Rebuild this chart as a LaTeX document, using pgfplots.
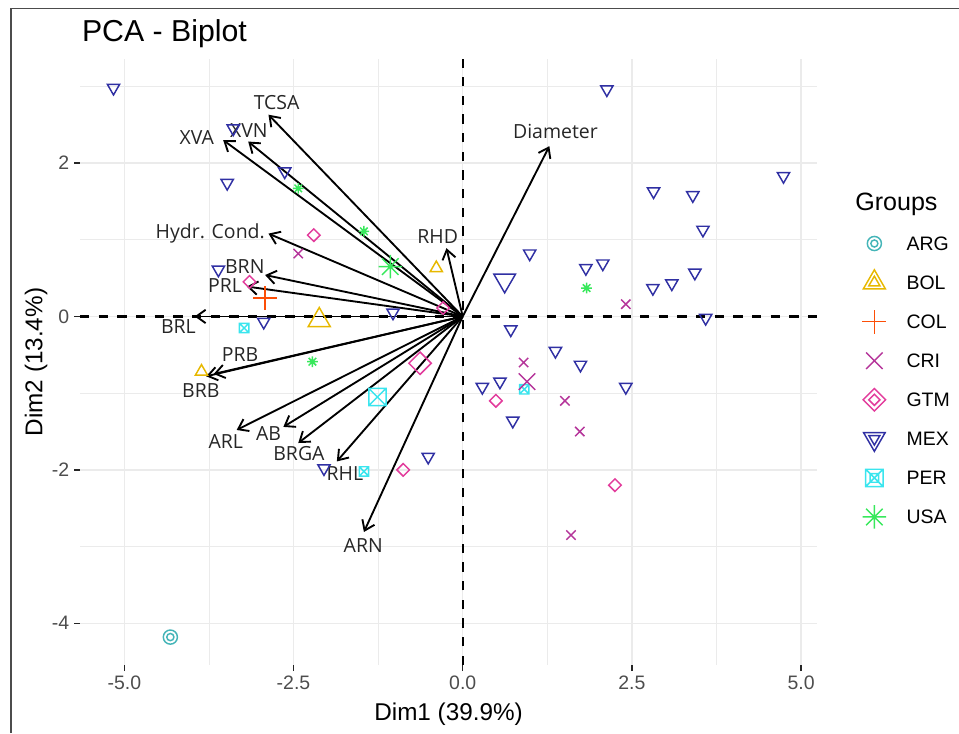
\documentclass[border=0pt]{standalone}
\usepackage{pgfplots}
\pgfplotsset{compat=1.18}
\usepackage{fontspec}
\setmainfont{Liberation Sans}
\newfontfamily\lblfont{Open Sans}
\usetikzlibrary{arrows.meta}
\definecolor{cARG}{HTML}{45B5B8}
\definecolor{cBOL}{HTML}{E7B800}
\definecolor{cCOL}{HTML}{FC4E07}
\definecolor{cCRI}{HTML}{B5359A}
\definecolor{cGTM}{HTML}{E23C9C}
\definecolor{cMEX}{HTML}{3030A3}
\definecolor{cPER}{HTML}{3AE5EE}
\definecolor{cUSA}{HTML}{38E85C}
\definecolor{gridc}{HTML}{EBEBEB}
\definecolor{tickc}{HTML}{4D4D4D}
% ggplot-like marks
\pgfdeclareplotmark{ggcirc}{\pgfpathcircle{\pgfpointorigin}{\pgfplotmarksize}\pgfusepathqstroke}
\pgfdeclareplotmark{ggdblcirc}{\pgfpathcircle{\pgfpointorigin}{\pgfplotmarksize}\pgfpathcircle{\pgfpointorigin}{0.5\pgfplotmarksize}\pgfusepathqstroke}
\pgfdeclareplotmark{ggtri}{%
  \pgfpathmoveto{\pgfqpoint{0pt}{1.1547\pgfplotmarksize}}%
  \pgfpathlineto{\pgfqpoint{\pgfplotmarksize}{-0.5774\pgfplotmarksize}}%
  \pgfpathlineto{\pgfqpoint{-\pgfplotmarksize}{-0.5774\pgfplotmarksize}}%
  \pgfpathclose\pgfusepathqstroke}
\pgfdeclareplotmark{ggdbltri}{%
  \pgfpathmoveto{\pgfqpoint{0pt}{1.1547\pgfplotmarksize}}%
  \pgfpathlineto{\pgfqpoint{\pgfplotmarksize}{-0.5774\pgfplotmarksize}}%
  \pgfpathlineto{\pgfqpoint{-\pgfplotmarksize}{-0.5774\pgfplotmarksize}}%
  \pgfpathclose
  \pgfpathmoveto{\pgfqpoint{0pt}{0.5774\pgfplotmarksize}}%
  \pgfpathlineto{\pgfqpoint{0.5\pgfplotmarksize}{-0.2887\pgfplotmarksize}}%
  \pgfpathlineto{\pgfqpoint{-0.5\pgfplotmarksize}{-0.2887\pgfplotmarksize}}%
  \pgfpathclose\pgfusepathqstroke}
\pgfdeclareplotmark{ggtridown}{%
  \pgfpathmoveto{\pgfqpoint{0pt}{-1.1547\pgfplotmarksize}}%
  \pgfpathlineto{\pgfqpoint{\pgfplotmarksize}{0.5774\pgfplotmarksize}}%
  \pgfpathlineto{\pgfqpoint{-\pgfplotmarksize}{0.5774\pgfplotmarksize}}%
  \pgfpathclose\pgfusepathqstroke}
\pgfdeclareplotmark{ggdbltridown}{%
  \pgfpathmoveto{\pgfqpoint{0pt}{-1.1547\pgfplotmarksize}}%
  \pgfpathlineto{\pgfqpoint{\pgfplotmarksize}{0.5774\pgfplotmarksize}}%
  \pgfpathlineto{\pgfqpoint{-\pgfplotmarksize}{0.5774\pgfplotmarksize}}%
  \pgfpathclose
  \pgfpathmoveto{\pgfqpoint{0pt}{-0.5774\pgfplotmarksize}}%
  \pgfpathlineto{\pgfqpoint{0.5\pgfplotmarksize}{0.2887\pgfplotmarksize}}%
  \pgfpathlineto{\pgfqpoint{-0.5\pgfplotmarksize}{0.2887\pgfplotmarksize}}%
  \pgfpathclose\pgfusepathqstroke}
\pgfdeclareplotmark{ggplus}{%
  \pgfpathmoveto{\pgfqpoint{-\pgfplotmarksize}{0pt}}\pgfpathlineto{\pgfqpoint{\pgfplotmarksize}{0pt}}%
  \pgfpathmoveto{\pgfqpoint{0pt}{-\pgfplotmarksize}}\pgfpathlineto{\pgfqpoint{0pt}{\pgfplotmarksize}}%
  \pgfusepathqstroke}
\pgfdeclareplotmark{ggx}{%
  \pgfpathmoveto{\pgfqpoint{-\pgfplotmarksize}{-\pgfplotmarksize}}\pgfpathlineto{\pgfqpoint{\pgfplotmarksize}{\pgfplotmarksize}}%
  \pgfpathmoveto{\pgfqpoint{-\pgfplotmarksize}{\pgfplotmarksize}}\pgfpathlineto{\pgfqpoint{\pgfplotmarksize}{-\pgfplotmarksize}}%
  \pgfusepathqstroke}
\pgfdeclareplotmark{ggdia}{%
  \pgfpathmoveto{\pgfqpoint{0pt}{\pgfplotmarksize}}\pgfpathlineto{\pgfqpoint{\pgfplotmarksize}{0pt}}%
  \pgfpathlineto{\pgfqpoint{0pt}{-\pgfplotmarksize}}\pgfpathlineto{\pgfqpoint{-\pgfplotmarksize}{0pt}}%
  \pgfpathclose\pgfusepathqstroke}
\pgfdeclareplotmark{ggdbldia}{%
  \pgfpathmoveto{\pgfqpoint{0pt}{\pgfplotmarksize}}\pgfpathlineto{\pgfqpoint{\pgfplotmarksize}{0pt}}%
  \pgfpathlineto{\pgfqpoint{0pt}{-\pgfplotmarksize}}\pgfpathlineto{\pgfqpoint{-\pgfplotmarksize}{0pt}}%
  \pgfpathclose
  \pgfpathmoveto{\pgfqpoint{0pt}{0.5\pgfplotmarksize}}\pgfpathlineto{\pgfqpoint{0.5\pgfplotmarksize}{0pt}}%
  \pgfpathlineto{\pgfqpoint{0pt}{-0.5\pgfplotmarksize}}\pgfpathlineto{\pgfqpoint{-0.5\pgfplotmarksize}{0pt}}%
  \pgfpathclose\pgfusepathqstroke}
\pgfdeclareplotmark{ggsqx}{%
  \pgfpathrectangle{\pgfqpoint{-\pgfplotmarksize}{-\pgfplotmarksize}}{\pgfqpoint{2\pgfplotmarksize}{2\pgfplotmarksize}}%
  \pgfpathmoveto{\pgfqpoint{-\pgfplotmarksize}{-\pgfplotmarksize}}\pgfpathlineto{\pgfqpoint{\pgfplotmarksize}{\pgfplotmarksize}}%
  \pgfpathmoveto{\pgfqpoint{-\pgfplotmarksize}{\pgfplotmarksize}}\pgfpathlineto{\pgfqpoint{\pgfplotmarksize}{-\pgfplotmarksize}}%
  \pgfusepathqstroke}
\pgfdeclareplotmark{ggdblsqx}{%
  \pgfpathrectangle{\pgfqpoint{-\pgfplotmarksize}{-\pgfplotmarksize}}{\pgfqpoint{2\pgfplotmarksize}{2\pgfplotmarksize}}%
  \pgfpathrectangle{\pgfqpoint{-0.5\pgfplotmarksize}{-0.5\pgfplotmarksize}}{\pgfqpoint{\pgfplotmarksize}{\pgfplotmarksize}}%
  \pgfpathmoveto{\pgfqpoint{-\pgfplotmarksize}{-\pgfplotmarksize}}\pgfpathlineto{\pgfqpoint{\pgfplotmarksize}{\pgfplotmarksize}}%
  \pgfpathmoveto{\pgfqpoint{-\pgfplotmarksize}{\pgfplotmarksize}}\pgfpathlineto{\pgfqpoint{\pgfplotmarksize}{-\pgfplotmarksize}}%
  \pgfusepathqstroke}
\pgfdeclareplotmark{ggast}{%
  \pgfpathmoveto{\pgfqpoint{-\pgfplotmarksize}{0pt}}\pgfpathlineto{\pgfqpoint{\pgfplotmarksize}{0pt}}%
  \pgfpathmoveto{\pgfqpoint{0pt}{-\pgfplotmarksize}}\pgfpathlineto{\pgfqpoint{0pt}{\pgfplotmarksize}}%
  \pgfpathmoveto{\pgfqpoint{-0.7071\pgfplotmarksize}{-0.7071\pgfplotmarksize}}\pgfpathlineto{\pgfqpoint{0.7071\pgfplotmarksize}{0.7071\pgfplotmarksize}}%
  \pgfpathmoveto{\pgfqpoint{-0.7071\pgfplotmarksize}{0.7071\pgfplotmarksize}}\pgfpathlineto{\pgfqpoint{0.7071\pgfplotmarksize}{-0.7071\pgfplotmarksize}}%
  \pgfusepathqstroke}
\pgfplotsset{
  vec/.style={forget plot, no markers, black, line width=1.4pt, -{Straight Barb[length=7pt,width=10pt,line width=1.4pt]}},
  pts/.style={forget plot, only marks, line width=1.1pt},
  refl/.style={forget plot, no markers, black, line width=1.8pt, dash pattern=on 7pt off 7pt},
}
\tikzset{
  vlab/.style={font=\lblfont\fontsize{14.6}{17}\selectfont, text=black!85, inner sep=0pt, text height=0.714em, text depth=0pt, anchor=center},
}
\begin{document}
\begin{tikzpicture}
\useasboundingbox (0,0) rectangle (719.25pt,549.75pt);
\draw[line width=1.3pt, color=black!70] (8.25pt,0pt) -- (8.25pt,543.4pt) -- (719.25pt,543.4pt);
\begin{axis}[
  at={(60pt,51pt)}, anchor=south west,
  scale only axis, width=552.75pt, height=454.3pt,
  xmin=-5.655, xmax=5.235, ymin=-4.544, ymax=3.353,
  axis line style={draw=none},
  xtick={-5,-2.5,0,2.5,5}, xticklabels={-5.0,-2.5,0.0,2.5,5.0},
  ytick={-4,-2,0,2}, yticklabels={-4,-2,0,2},
  minor xtick={-3.75,-1.25,1.25,3.75}, minor ytick={-3,-1,1,3},
  grid=both,
  major grid style={gridc, line width=1.1pt},
  minor grid style={gridc, line width=0.55pt},
  tick pos=left, tick align=outside,
  major tick length=4.5pt, minor tick length=0pt,
  major tick style={black!85, line width=1.1pt},
  ticklabel style={font=\fontsize{14.6}{17}\selectfont, color=tickc},
  legend style={at={(1.0612,0.7174)}, anchor=north west, draw=none, fill=none,
    inner xsep=0pt, inner ysep=0pt, row sep=10.1pt,
    font=\fontsize{14.6}{17}\selectfont,
    nodes={inner sep=0pt, text depth=0pt},
    /tikz/every odd column/.append style={column sep=15.15pt}},
  legend cell align=left,
  legend image code/.code={\path[draw=none,fill=none] (0pt,-9.6pt) rectangle (17pt,9.6pt);
    \draw[#1,only marks] plot coordinates {(8.5pt,0pt)};},
]
% individuals
\addplot[pts, cMEX, mark=ggtridown, mark size=4.6pt] coordinates {
(-5.16,2.98) (-3.39,2.45) (-2.63,1.89) (-3.48,1.74) (-3.61,0.61) (-2.94,-0.07)
(-1.03,0.05) (-2.05,-1.98) (-0.51,-1.83) (2.13,2.96) (4.74,1.83) (2.82,1.63)
(3.40,1.58) (3.55,1.13) (0.99,0.82) (1.82,0.63) (2.07,0.69) (2.81,0.37)
(3.09,0.43) (3.43,0.57) (3.59,-0.02) (0.71,-0.17) (1.37,-0.45) (1.74,-0.63)
(0.55,-0.85) (0.29,-0.92) (2.41,-0.92) (0.74,-1.36)};
\addplot[pts, cCRI, mark=ggx, mark size=3.5pt] coordinates {
(-2.43,0.82) (2.41,0.16) (0.90,-0.60) (1.51,-1.10) (1.73,-1.50) (1.60,-2.85)};
\addplot[pts, cGTM, mark=ggdia, mark size=4.7pt] coordinates {
(-2.20,1.06) (-3.15,0.45) (-0.88,-2.00) (0.49,-1.10) (2.25,-2.20) (-0.29,0.11)};
\addplot[pts, cBOL, mark=ggtri, mark size=4.6pt] coordinates {
(-0.39,0.63) (-3.86,-0.72)};
\addplot[pts, cPER, mark=ggsqx, mark size=3.5pt] coordinates {
(-3.23,-0.15) (-1.46,-2.02) (0.91,-0.95)};
\addplot[pts, cUSA, mark=ggast, mark size=4pt] coordinates {
(-2.43,1.67) (-1.46,1.11) (-2.22,-0.59) (1.83,0.37)};
\addplot[pts, cCOL, mark=ggplus, mark size=5pt] coordinates {(-2.92,0.24)};
\addplot[pts, cARG, mark=ggcirc, mark size=2.7pt] coordinates {(-4.32,-4.18)};
% group means
\addplot[pts, cMEX, mark=ggtridown, mark size=8.1pt] coordinates {(0.62,0.47)};
\addplot[pts, cCRI, mark=ggx, mark size=6.2pt] coordinates {(0.95,-0.85)};
\addplot[pts, cGTM, mark=ggdia, mark size=8.4pt] coordinates {(-0.63,-0.61)};
\addplot[pts, cBOL, mark=ggtri, mark size=8.3pt] coordinates {(-2.12,-0.05)};
\addplot[pts, cPER, mark=ggsqx, mark size=6.5pt] coordinates {(-1.26,-1.05)};
\addplot[pts, cUSA, mark=ggast, mark size=8.8pt] coordinates {(-1.07,0.65)};
\addplot[pts, cCOL, mark=ggplus, mark size=9pt] coordinates {(-2.92,0.24)};
\addplot[pts, cARG, mark=ggcirc, mark size=5.3pt] coordinates {(-4.32,-4.18)};
% reference lines
\addplot[refl] coordinates {(-5.655,0) (5.235,0)};
\addplot[refl] coordinates {(0,-4.544) (0,3.353)};
% variable arrows
\addplot[vec] coordinates {(0,0) (-2.87,2.63)};
\addplot[vec] coordinates {(0,0) (-3.17,2.28)};
\addplot[vec] coordinates {(0,0) (-3.54,2.30)};
\addplot[vec] coordinates {(0,0) (-2.87,1.08)};
\addplot[vec] coordinates {(0,0) (-0.24,0.89)};
\addplot[vec] coordinates {(0,0) (-2.92,0.54)};
\addplot[vec] coordinates {(0,0) (-3.19,0.39)};
\addplot[vec] coordinates {(0,0) (-3.96,0.00)};
\addplot[vec] coordinates {(0,0) (-3.68,-0.75)};
\addplot[vec] coordinates {(0,0) (-3.79,-0.78)};
\addplot[vec] coordinates {(0,0) (-3.34,-1.48)};
\addplot[vec] coordinates {(0,0) (-2.65,-1.44)};
\addplot[vec] coordinates {(0,0) (-2.43,-1.65)};
\addplot[vec] coordinates {(0,0) (-1.86,-1.89)};
\addplot[vec] coordinates {(0,0) (-1.46,-2.81)};
\addplot[vec] coordinates {(0,0) (1.28,2.22)};
\node[vlab] at (axis cs:-2.75,2.76) {TCSA};
\node[vlab] at (axis cs:-3.16,2.40) {XVN};
\node[vlab] at (axis cs:-3.93,2.30) {XVA};
\node[vlab] at (axis cs:-3.73,1.08) {Hydr. Cond.};
\node[vlab] at (axis cs:-0.37,1.01) {RHD};
\node[vlab] at (axis cs:-3.22,0.62) {BRN};
\node[vlab] at (axis cs:-3.51,0.38) {PRL};
\node[vlab] at (axis cs:-4.20,-0.16) {BRL};
\node[vlab] at (axis cs:-3.29,-0.52) {PRB};
\node[vlab] at (axis cs:-3.87,-1.00) {BRB};
\node[vlab] at (axis cs:-3.50,-1.66) {ARL};
\node[vlab] at (axis cs:-2.87,-1.55) {AB};
\node[vlab] at (axis cs:-2.42,-1.81) {BRGA};
\node[vlab] at (axis cs:-1.74,-2.08) {RHL};
\node[vlab] at (axis cs:-1.47,-3.01) {ARN};
\node[vlab] at (axis cs:1.37,2.38) {Diameter};
% legend
\addlegendimage{cARG, line width=1.1pt, mark=ggdblcirc, mark size=5.3pt}
\addlegendentry{ARG}
\addlegendimage{cBOL, line width=1.1pt, mark=ggdbltri, mark size=8.3pt}
\addlegendentry{BOL}
\addlegendimage{cCOL, line width=1.1pt, mark=ggplus, mark size=9pt}
\addlegendentry{COL}
\addlegendimage{cCRI, line width=1.1pt, mark=ggx, mark size=6.2pt}
\addlegendentry{CRI}
\addlegendimage{cGTM, line width=1.1pt, mark=ggdbldia, mark size=8.4pt}
\addlegendentry{GTM}
\addlegendimage{cMEX, line width=1.1pt, mark=ggdbltridown, mark size=8.1pt}
\addlegendentry{MEX}
\addlegendimage{cPER, line width=1.1pt, mark=ggdblsqx, mark size=6.5pt}
\addlegendentry{PER}
\addlegendimage{cUSA, line width=1.1pt, mark=ggast, mark size=8.8pt}
\addlegendentry{USA}
\end{axis}
\node[anchor=base west, inner sep=0pt, font=\fontsize{22.7}{27}\selectfont] at (61.3pt,518.5pt) {PCA - Biplot};
\node[anchor=base, inner sep=0pt, font=\fontsize{18.2}{22}\selectfont] at (336.4pt,9.75pt) {Dim1 (39.9\%)};
\node[anchor=base, rotate=90, inner sep=0pt, font=\fontsize{18.2}{22}\selectfont] at (31.7pt,278.25pt) {Dim2 (13.4\%)};
\node[anchor=base west, inner sep=0pt, font=\fontsize{18.8}{22}\selectfont] at (641.25pt,391.5pt) {Groups};
\end{tikzpicture}
\end{document}
